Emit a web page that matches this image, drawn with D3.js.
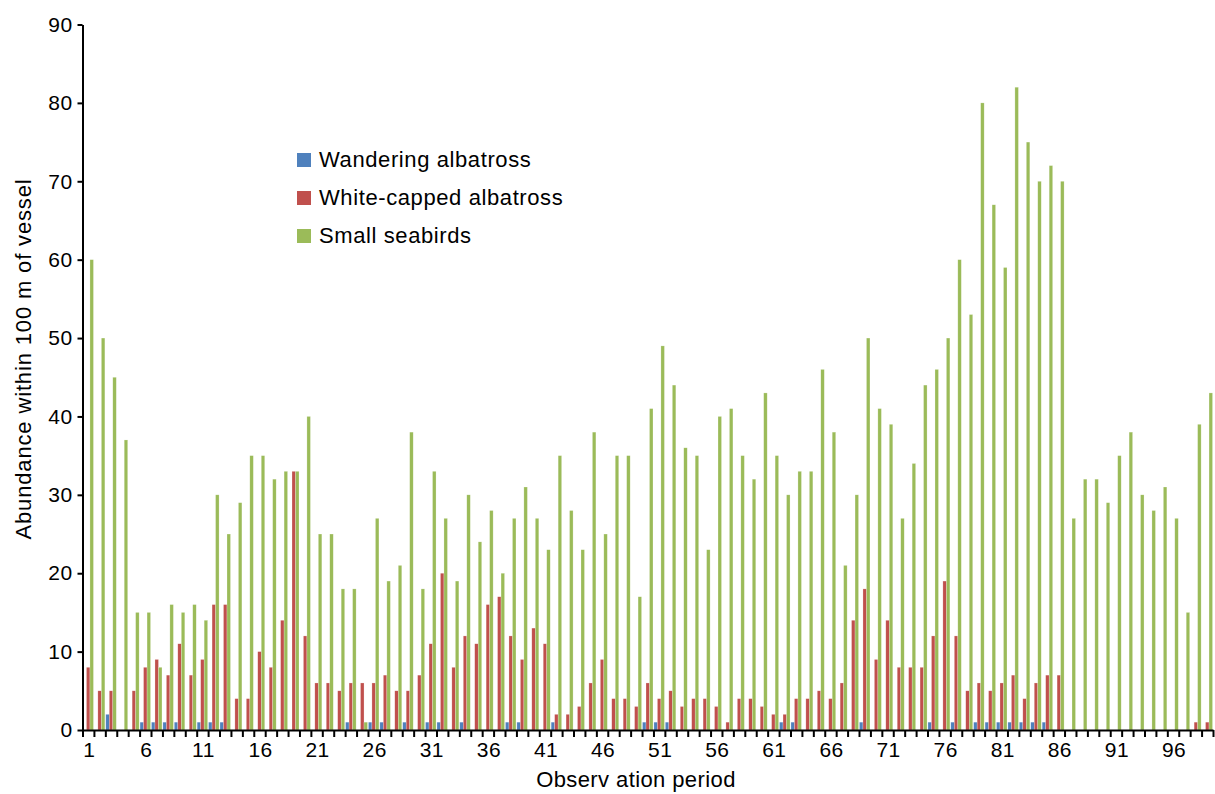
<!DOCTYPE html>
<html>
<head>
<meta charset="utf-8">
<script src="https://cdn.jsdelivr.net/npm/d3@7"></script>
<style>
  body { margin: 0; background: #fff; }
  text { font-family: "Liberation Sans", Arial, sans-serif; fill: #000; }
</style>
</head>
<body>
<svg width="1215" height="794"></svg>
<script>
// observation periods 1..99
var periods = d3.range(1, 100);
var tickLabels = [1, 6, 11, 16, 21, 26, 31, 36, 41, 46, 51, 56, 61, 66, 71, 76, 81, 86, 91, 96];
var yTicks = [0, 10, 20, 30, 40, 50, 60, 70, 80, 90];

var seriesNames = ["Wandering albatross", "White-capped albatross", "Small seabirds"];
var seriesColors = ["#4F81BD", "#C0504D", "#9BBB59"];

var wandering = [
  0, 0, 2, 0, 0, 1, 1, 1, 1, 0,
  1, 1, 1, 0, 0, 0, 0, 0, 0, 0,
  0, 0, 0, 1, 0, 1, 1, 0, 1, 0,
  1, 1, 0, 1, 0, 0, 0, 1, 1, 0,
  0, 1, 0, 0, 0, 0, 0, 0, 0, 1,
  1, 1, 0, 0, 0, 0, 0, 0, 0, 0,
  0, 1, 1, 0, 0, 0, 0, 0, 1, 0,
  0, 0, 0, 0, 1, 0, 1, 0, 1, 1,
  1, 1, 1, 1, 1, 0, 0, 0, 0, 0,
  0, 0, 0, 0, 0, 0, 0, 0, 0
];

var whiteCapped = [
  8, 5, 5, 0, 5, 8, 9, 7, 11, 7,
  9, 16, 16, 4, 4, 10, 8, 14, 33, 12,
  6, 6, 5, 6, 6, 6, 7, 5, 5, 7,
  11, 20, 8, 12, 11, 16, 17, 12, 9, 13,
  11, 2, 2, 3, 6, 9, 4, 4, 3, 6,
  4, 5, 3, 4, 4, 3, 1, 4, 4, 3,
  2, 2, 4, 4, 5, 4, 6, 14, 18, 9,
  14, 8, 8, 8, 12, 19, 12, 5, 6, 5,
  6, 7, 4, 6, 7, 7, 0, 0, 0, 0,
  0, 0, 0, 0, 0, 0, 0, 1, 1
];

var smallSeabirds = [
  60, 50, 45, 37, 15, 15, 8, 16, 15, 16,
  14, 30, 25, 29, 35, 35, 32, 33, 33, 40,
  25, 25, 18, 18, 1, 27, 19, 21, 38, 18,
  33, 27, 19, 30, 24, 28, 20, 27, 31, 27,
  23, 35, 28, 23, 38, 25, 35, 35, 17, 41,
  49, 44, 36, 35, 23, 40, 41, 35, 32, 43,
  35, 30, 33, 33, 46, 38, 21, 30, 50, 41,
  39, 27, 34, 44, 46, 50, 60, 53, 80, 67,
  59, 82, 75, 70, 72, 70, 27, 32, 32, 29,
  35, 38, 30, 28, 31, 27, 15, 39, 43
];

var seriesValues = [wandering, whiteCapped, smallSeabirds];

var svg = d3.select("svg");
var plotLeft = 82.5, plotRight = 1213, plotTop = 24.5, plotBottom = 730;

var x0 = d3.scaleBand().domain(periods).range([plotLeft, plotRight]).paddingInner(0.08).paddingOuter(0.04);
var x1 = d3.scaleBand().domain(d3.range(3)).range([0, x0.bandwidth()]);
var xb = d3.scaleLinear().domain([0, periods.length]).range([plotLeft, plotRight]);
var y = d3.scaleLinear().domain([0, 90]).range([plotBottom, plotTop]);

// bars
var groups = svg.append("g").selectAll("g")
  .data(periods)
  .enter()
  .append("g")
  .attr("transform", function (d) { return "translate(" + x0(d) + ",0)"; });

groups.selectAll("rect")
  .data(function (d, i) {
    return seriesValues.map(function (s, k) { return { k: k, v: s[i] }; });
  })
  .enter()
  .append("rect")
  .attr("x", function (d) { return x1(d.k); })
  .attr("y", function (d) { return y(d.v); })
  .attr("width", x1.bandwidth())
  .attr("height", function (d) { return plotBottom - y(d.v); })
  .attr("fill", function (d) { return seriesColors[d.k]; })
  .attr("stroke", "rgba(255,255,255,0.45)")
  .attr("stroke-width", 0.5);

// x axis: boundary ticks
var xAxis = svg.append("g")
  .attr("transform", "translate(0," + plotBottom + ")")
  .call(d3.axisBottom(xb).tickValues(d3.range(0, periods.length + 1)).tickFormat("").tickSize(7).tickSizeOuter(0));
xAxis.select(".domain").attr("stroke", "#000").attr("stroke-width", 2);
xAxis.selectAll(".tick line").attr("stroke", "#000").attr("stroke-width", 2);

// x axis labels
var xLab = svg.append("g")
  .attr("transform", "translate(1," + plotBottom + ")")
  .call(d3.axisBottom(x0).tickValues(tickLabels).tickSize(0).tickPadding(12));
xLab.select(".domain").remove();
xLab.attr("font-size", null).attr("font-family", null);
xLab.selectAll("text")
  .attr("font-size", "21px")
  .attr("letter-spacing", "0.4px")
  .attr("fill", "#000");

// y axis
var yAxis = svg.append("g")
  .attr("transform", "translate(" + plotLeft + ",0)")
  .call(d3.axisLeft(y).tickValues(yTicks).tickSize(5).tickSizeOuter(0).tickPadding(5));
yAxis.attr("font-size", null).attr("font-family", null);
yAxis.select(".domain").attr("stroke", "#000").attr("stroke-width", 2);
yAxis.selectAll(".tick line").attr("stroke", "#000").attr("stroke-width", 2);
yAxis.selectAll("text")
  .attr("font-size", "21px")
  .attr("letter-spacing", "0.4px")
  .attr("fill", "#000");

// axis titles
svg.append("text")
  .attr("transform", "translate(30.5,359) rotate(-90)")
  .attr("text-anchor", "middle")
  .attr("font-size", "22px")
  .attr("letter-spacing", "0.85px")
  .text("Abundance within 100 m of vessel");

svg.append("text")
  .attr("x", 636)
  .attr("y", 787)
  .attr("text-anchor", "middle")
  .attr("font-size", "22px")
  .attr("letter-spacing", "0.4px")
  .text("Observ ation period");

// legend
var legend = svg.append("g").attr("transform", "translate(297,153)");
seriesNames.forEach(function (name, i) {
  legend.append("rect")
    .attr("x", 0)
    .attr("y", i * 38)
    .attr("width", 14)
    .attr("height", 14)
    .attr("fill", seriesColors[i]);
  legend.append("text")
    .attr("x", 22)
    .attr("y", i * 38 + 14)
    .attr("font-size", "22px")
    .attr("letter-spacing", "0.6px")
    .text(name);
});
</script>
</body>
</html>
